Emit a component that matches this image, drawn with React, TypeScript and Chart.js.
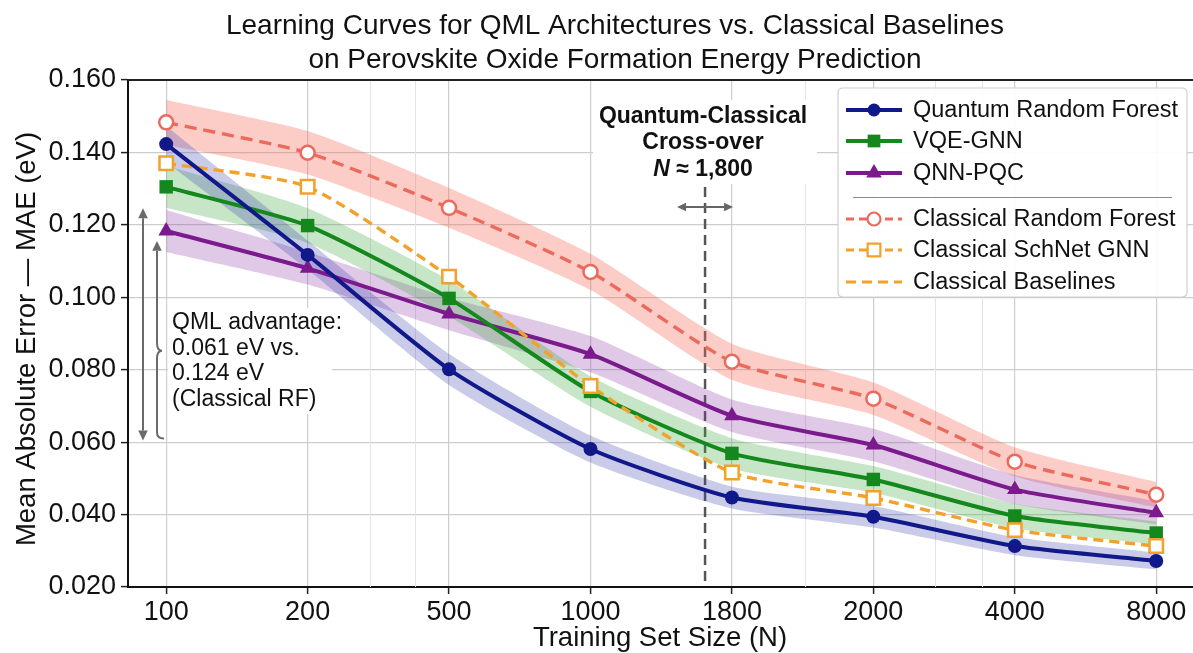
import React, { useEffect, useRef } from "react";
import { Chart, registerables } from "chart.js";

Chart.register(...registerables);

// ---------------- data ----------------
const trainingSizes = [100, 200, 500, 1000, 1800, 2000, 4000, 8000];
const minorGridSizes = [300, 400, 1900, 2700, 3400];

const quantumRF = [0.1423, 0.1117, 0.0801, 0.0581, 0.0447, 0.0394, 0.0313, 0.0272];
const quantumRFBand = [0.005, 0.004, 0.0043, 0.0037, 0.003, 0.003, 0.0025, 0.0023];

const vqeGNN = [0.1305, 0.1198, 0.0997, 0.074, 0.0569, 0.0497, 0.0396, 0.0349];
const vqeGNNBand = [0.0058, 0.0048, 0.005, 0.0042, 0.0042, 0.0037, 0.0034, 0.0032];

const qnnPQC = [0.1183, 0.108, 0.0954, 0.0843, 0.0673, 0.0592, 0.0469, 0.0405];
const qnnPQCBand = [0.0058, 0.0045, 0.0045, 0.005, 0.0045, 0.0045, 0.004, 0.0032];

const classicalRF = [0.1483, 0.1399, 0.1247, 0.107, 0.0822, 0.072, 0.0546, 0.0455];
const classicalRFBand = [0.0062, 0.006, 0.0055, 0.005, 0.005, 0.0045, 0.004, 0.0035];

const schNetGNN = [0.137, 0.1305, 0.1057, 0.0755, 0.0516, 0.0446, 0.0357, 0.0313];

const yTickValues = [0.02, 0.04, 0.06, 0.08, 0.1, 0.12, 0.14, 0.16];

const crossoverPos = 3.81; // axis position of the N ≈ 1,800 marker line
const advantageTop = 0.124;
const advantageBottom = 0.061;
const advantageInnerTop = 0.115;

const titleLines = [
  "Learning Curves for QML Architectures vs. Classical Baselines",
  "on Perovskite Oxide Formation Energy Prediction",
];
const crossoverLines = ["Quantum-Classical", "Cross-over"];
const advantageLines = ["QML advantage:", "0.061 eV vs.", "0.124 eV", "(Classical RF)"];

// ---------------- style ----------------
const W = 1193;
const H = 653;
const FONT = "'Liberation Sans', Arial, Helvetica, sans-serif";
const NAVY = "#10188a";
const GREEN = "#14881c";
const PURPLE = "#7a1a8c";
const RED = "#ec6a5c";
const ORANGE = "#f2a12c";

const legendItems = [
  { label: "Quantum Random Forest", color: NAVY, dash: [], marker: "circle", open: false },
  { label: "VQE-GNN", color: GREEN, dash: [], marker: "rect", open: false },
  { label: "QNN-PQC", color: PURPLE, dash: [], marker: "triangle", open: false },
  { label: "Classical Random Forest", color: RED, dash: [8, 5], marker: "circle", open: true },
  { label: "Classical SchNet GNN", color: ORANGE, dash: [8, 5], marker: "rect", open: true },
  { label: "Classical Baselines", color: ORANGE, dash: [10, 6], marker: null, open: false },
];

function drawMarker(ctx, style, x, y, r, fill, stroke, lw) {
  ctx.save();
  ctx.setLineDash([]);
  ctx.beginPath();
  if (style === "circle") {
    ctx.arc(x, y, r, 0, Math.PI * 2);
  } else if (style === "rect") {
    const s = r * Math.SQRT1_2;
    ctx.rect(x - s, y - s, 2 * s, 2 * s);
  } else if (style === "triangle") {
    let a = 0;
    ctx.moveTo(x + Math.sin(a) * r, y - Math.cos(a) * r);
    a += (2 * Math.PI) / 3;
    ctx.lineTo(x + Math.sin(a) * r, y - Math.cos(a) * r);
    a += (2 * Math.PI) / 3;
    ctx.lineTo(x + Math.sin(a) * r, y - Math.cos(a) * r);
    ctx.closePath();
  }
  ctx.fillStyle = fill;
  ctx.fill();
  if (lw > 0) {
    ctx.lineWidth = lw;
    ctx.strokeStyle = stroke;
    ctx.stroke();
  }
  ctx.restore();
}

function arrowHead(ctx, x, y, angle, size) {
  ctx.beginPath();
  ctx.moveTo(x, y);
  ctx.lineTo(x - size * Math.cos(angle - 0.45), y - size * Math.sin(angle - 0.45));
  ctx.lineTo(x - size * Math.cos(angle + 0.45), y - size * Math.sin(angle + 0.45));
  ctx.closePath();
  ctx.fill();
}

const pts = (vals) => vals.map((v, i) => ({ x: i, y: v }));
const shifted = (vals, band, sign) => vals.map((v, i) => ({ x: i, y: v + sign * band[i] }));

function axisPos(n) {
  for (let i = 0; i < trainingSizes.length - 1; i++) {
    const a = trainingSizes[i];
    const b = trainingSizes[i + 1];
    if (n >= a && n <= b) return i + Math.log(n / a) / Math.log(b / a);
  }
  return 0;
}

function roundRect(ctx, x, y, w, h, r) {
  ctx.beginPath();
  ctx.moveTo(x + r, y);
  ctx.lineTo(x + w - r, y);
  ctx.quadraticCurveTo(x + w, y, x + w, y + r);
  ctx.lineTo(x + w, y + h - r);
  ctx.quadraticCurveTo(x + w, y + h, x + w - r, y + h);
  ctx.lineTo(x + r, y + h);
  ctx.quadraticCurveTo(x, y + h, x, y + h - r);
  ctx.lineTo(x, y + r);
  ctx.quadraticCurveTo(x, y, x + r, y);
  ctx.closePath();
}

const decorPlugin = {
  id: "decor",
  beforeDatasetsDraw(chart) {
    const { ctx, chartArea, scales } = chart;
    const xs = scales.x;
    ctx.save();
    // minor vertical grid
    ctx.strokeStyle = "#e4e4e4";
    ctx.lineWidth = 1;
    minorGridSizes.forEach((n) => {
      const px = Math.round(xs.getPixelForValue(axisPos(n))) + 0.5;
      ctx.beginPath();
      ctx.moveTo(px, chartArea.top);
      ctx.lineTo(px, chartArea.bottom);
      ctx.stroke();
    });
    // crossover dashed line
    const cx = xs.getPixelForValue(crossoverPos);
    ctx.strokeStyle = "#555555";
    ctx.lineWidth = 2.5;
    ctx.setLineDash([10, 6]);
    ctx.beginPath();
    ctx.moveTo(cx, 187);
    ctx.lineTo(cx, chartArea.bottom);
    ctx.stroke();
    ctx.restore();
  },
  afterDraw(chart) {
    const { ctx, chartArea, scales } = chart;
    const xs = scales.x;
    const ys = scales.y;
    ctx.save();

    // plot frame (top)
    ctx.strokeStyle = "#222";
    ctx.lineWidth = 2;
    ctx.beginPath();
    ctx.moveTo(chartArea.left, chartArea.top);
    ctx.lineTo(chartArea.right, chartArea.top);
    ctx.stroke();

    // title
    ctx.fillStyle = "#111";
    ctx.font = `28px ${FONT}`;
    ctx.textAlign = "center";
    ctx.textBaseline = "middle";
    ctx.fillText(titleLines[0], 615, 26);
    ctx.fillText(titleLines[1], 615, 60);

    // axis titles
    ctx.font = `27.5px ${FONT}`;
    ctx.fillText("Training Set Size (N)", 660, 638);
    ctx.save();
    ctx.translate(27, 339);
    ctx.rotate(-Math.PI / 2);
    ctx.fillText("Mean Absolute Error \u2014 MAE (eV)", 0, 0);
    ctx.restore();

    // crossover annotation
    const cx = xs.getPixelForValue(crossoverPos);
    ctx.fillStyle = "#ffffff";
    ctx.fillRect(cx - 112, 100, 224, 84);
    ctx.fillStyle = "#111";
    ctx.font = `bold 23px ${FONT}`;
    ctx.fillText(crossoverLines[0], cx - 2, 117);
    ctx.fillText(crossoverLines[1], cx - 2, 143);
    // N ≈ 1,800 with italic N
    const nTxt = "N";
    const rest = " \u2248 1,800";
    ctx.font = `italic bold 23px ${FONT}`;
    const wN = ctx.measureText(nTxt).width;
    ctx.font = `bold 23px ${FONT}`;
    const wR = ctx.measureText(rest).width;
    const startX = cx - 2 - (wN + wR) / 2;
    ctx.textAlign = "left";
    ctx.font = `italic bold 23px ${FONT}`;
    ctx.fillText(nTxt, startX, 170);
    ctx.font = `bold 23px ${FONT}`;
    ctx.fillText(rest, startX + wN, 170);

    // horizontal double arrow
    ctx.strokeStyle = "#666";
    ctx.fillStyle = "#666";
    ctx.lineWidth = 2;
    ctx.setLineDash([]);
    ctx.beginPath();
    ctx.moveTo(cx - 22, 207);
    ctx.lineTo(cx + 22, 207);
    ctx.stroke();
    arrowHead(ctx, cx - 28, 207, Math.PI, 10);
    arrowHead(ctx, cx + 28, 207, 0, 10);

    // QML advantage annotation
    const yTop = ys.getPixelForValue(advantageTop);
    const yBot = ys.getPixelForValue(advantageBottom);
    const yInner = ys.getPixelForValue(advantageInnerTop);
    ctx.strokeStyle = "#6a6a6a";
    ctx.fillStyle = "#6a6a6a";
    ctx.lineWidth = 2;
    ctx.beginPath();
    ctx.moveTo(143, yTop + 8);
    ctx.lineTo(143, yBot - 8);
    ctx.stroke();
    arrowHead(ctx, 143, yTop - 2, -Math.PI / 2, 11);
    arrowHead(ctx, 143, yBot + 2, Math.PI / 2, 11);
    // brace-like arrow
    const bx = 157;
    const mid = (yInner + yBot) / 2 + 10;
    ctx.beginPath();
    ctx.moveTo(bx, yInner + 8);
    ctx.lineTo(bx, mid - 8);
    ctx.quadraticCurveTo(bx, mid, bx + 5, mid);
    ctx.quadraticCurveTo(bx, mid, bx, mid + 8);
    ctx.lineTo(bx, yBot - 6);
    ctx.quadraticCurveTo(bx, yBot, bx + 7, yBot);
    ctx.stroke();
    arrowHead(ctx, bx, yInner - 2, -Math.PI / 2, 11);

    ctx.fillStyle = "#ffffff";
    ctx.fillRect(168, 308, 164, 106);
    ctx.fillStyle = "#111";
    ctx.font = `23px ${FONT}`;
    ctx.textAlign = "left";
    advantageLines.forEach((t, i) => ctx.fillText(t, 172, 323 + i * 25.5));

    // legend
    roundRect(ctx, 838, 88, 349, 209, 5);
    ctx.fillStyle = "rgba(255,255,255,0.92)";
    ctx.fill();
    ctx.strokeStyle = "#cfcfcf";
    ctx.lineWidth = 1.2;
    ctx.stroke();

    const rows = [110, 141, 173, 219, 250, 282];
    legendItems.forEach((it, i) => {
      const y = rows[i];
      ctx.save();
      ctx.strokeStyle = it.color;
      ctx.lineWidth = it.open || it.marker === null ? 3.2 : 4;
      ctx.setLineDash(it.dash);
      ctx.beginPath();
      ctx.moveTo(846, y);
      ctx.lineTo(902, y);
      ctx.stroke();
      ctx.restore();
      if (it.marker) {
        const rr = it.marker === "rect" ? 9 : it.marker === "triangle" ? 9 : 6.5;
        drawMarker(ctx, it.marker, 874, y, rr, it.open ? "#fff" : it.color, it.color, it.open ? 2.2 : 0);
      }
      ctx.fillStyle = "#111";
      ctx.font = `23.5px ${FONT}`;
      ctx.textAlign = "left";
      ctx.textBaseline = "middle";
      ctx.fillText(it.label, 913, y + 1);
    });
    ctx.strokeStyle = "#8a8a8a";
    ctx.lineWidth = 1;
    ctx.beginPath();
    ctx.moveTo(853, 197.5);
    ctx.lineTo(1172, 197.5);
    ctx.stroke();

    ctx.restore();
  },
};

function bandSets(vals, band, fill) {
  return [
    {
      label: "_lo",
      data: shifted(vals, band, -1),
      borderWidth: 0,
      pointRadius: 0,
      fill: false,
      tension: 0.2,
      order: 20,
    },
    {
      label: "_hi",
      data: shifted(vals, band, 1),
      borderWidth: 0,
      pointRadius: 0,
      fill: "-1",
      backgroundColor: fill,
      tension: 0.2,
      order: 20,
    },
  ];
}

export default function App() {
  const ref = useRef<HTMLCanvasElement>(null);

  useEffect(() => {
    document.body.style.margin = "0";
    document.documentElement.style.overflow = "hidden";
    document.body.style.overflow = "hidden";
    const canvas = ref.current;
    if (!canvas) return;

    const datasets: any[] = [
      {
        label: "Quantum Random Forest",
        data: pts(quantumRF),
        borderColor: NAVY,
        backgroundColor: NAVY,
        borderWidth: 4,
        pointStyle: "circle",
        pointRadius: 7,
        pointBorderWidth: 0,
        tension: 0.2,
        order: 1,
      },
      {
        label: "Classical SchNet GNN",
        data: pts(schNetGNN),
        borderColor: ORANGE,
        backgroundColor: "#ffffff",
        borderDash: [10, 6],
        borderWidth: 3.4,
        pointStyle: "rect",
        pointRadius: 9.5,
        pointBorderWidth: 2.5,
        pointBorderColor: ORANGE,
        tension: 0.2,
        order: 2,
      },
      {
        label: "VQE-GNN",
        data: pts(vqeGNN),
        borderColor: GREEN,
        backgroundColor: GREEN,
        borderWidth: 4,
        pointStyle: "rect",
        pointRadius: 9.5,
        pointBorderWidth: 0,
        tension: 0.2,
        order: 3,
      },
      {
        label: "QNN-PQC",
        data: pts(qnnPQC),
        borderColor: PURPLE,
        backgroundColor: PURPLE,
        borderWidth: 4,
        pointStyle: "triangle",
        pointRadius: 9,
        pointBorderWidth: 0,
        tension: 0.2,
        order: 4,
      },
      {
        label: "Classical Random Forest",
        data: pts(classicalRF),
        borderColor: RED,
        backgroundColor: "#ffffff",
        borderDash: [12, 7],
        borderWidth: 3.4,
        pointStyle: "circle",
        pointRadius: 7,
        pointBorderWidth: 2.5,
        pointBorderColor: RED,
        tension: 0.2,
        order: 5,
      },
      ...bandSets(quantumRF, quantumRFBand, "rgba(60,70,175,0.28)"),
      ...bandSets(vqeGNN, vqeGNNBand, "rgba(70,170,70,0.30)"),
      ...bandSets(qnnPQC, qnnPQCBand, "rgba(140,60,165,0.28)"),
      ...bandSets(classicalRF, classicalRFBand, "rgba(245,110,95,0.35)"),
    ];

    const chart = new Chart(canvas, {
      type: "line",
      data: { datasets },
      plugins: [decorPlugin],
      options: {
        animation: false,
        responsive: false,
        devicePixelRatio: 1,
        layout: { autoPadding: false, padding: { top: 80, left: 0, right: 0, bottom: 0 } },
        plugins: {
          legend: { display: false },
          title: { display: false },
          tooltip: { enabled: false },
        },
        scales: {
          x: {
            type: "linear",
            min: -0.27,
            max: 7.26,
            afterFit: (s) => {
              s.height = 66;
              s.paddingLeft = 0;
              s.paddingRight = 0;
            },
            afterBuildTicks: (s) => {
              s.ticks = trainingSizes.map((_, i) => ({ value: i }));
            },
            ticks: {
              autoSkip: false,
              maxRotation: 0,
              padding: 2,
              color: "#111",
              font: { family: FONT, size: 27 },
              callback: (_v, i) => String(trainingSizes[i]),
            },
            grid: {
              color: "#cdcdcd",
              lineWidth: 1.2,
              tickLength: 7,
              tickColor: "#222",
              tickWidth: 1.5,
            },
            border: { display: true, color: "#111", width: 2 },
          },
          y: {
            type: "linear",
            min: 0.02,
            max: 0.16,
            afterFit: (s) => {
              s.width = 128;
              s.paddingTop = 0;
              s.paddingBottom = 0;
            },
            afterBuildTicks: (s) => {
              s.ticks = yTickValues.map((v) => ({ value: v }));
            },
            ticks: {
              padding: 5,
              color: "#111",
              font: { family: FONT, size: 27 },
              callback: (v) => Number(v).toFixed(3),
            },
            grid: {
              color: "#cdcdcd",
              lineWidth: 1.2,
              tickLength: 7,
              tickColor: "#222",
              tickWidth: 1.5,
            },
            border: { display: true, color: "#111", width: 2 },
          },
        },
      },
    });

    return () => chart.destroy();
  }, []);

  return (
    <div
      style={{
        position: "fixed",
        left: 0,
        top: 0,
        width: `${W}px`,
        height: `${H}px`,
        background: "#fff",
      }}
    >
      <canvas ref={ref} width={W} height={H} style={{ display: "block", width: `${W}px`, height: `${H}px` }} />
    </div>
  );
}
